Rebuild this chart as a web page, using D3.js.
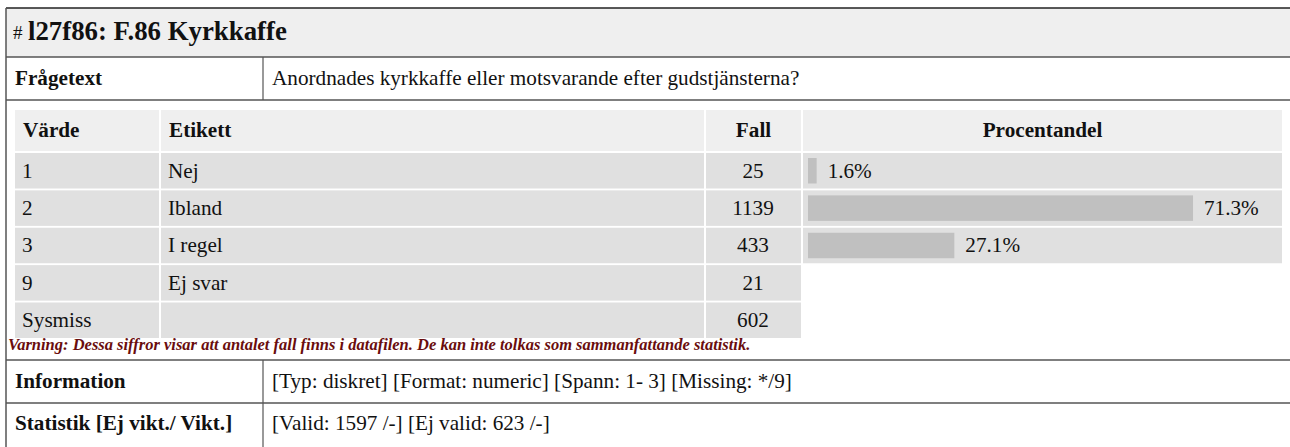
<!DOCTYPE html>
<html>
<head>
<meta charset="utf-8">
<script src="https://cdn.jsdelivr.net/npm/d3@7"></script>
<style>
  body { margin: 0; background: #fff; }
  svg text { font-family: "Liberation Serif", "DejaVu Serif", serif; fill: #111; }
</style>
</head>
<body>
<svg width="1290" height="447"></svg>
<script>
// data
var values = ["1", "2", "3", "9", "Sysmiss"];
var labels = ["Nej", "Ibland", "I regel", "Ej svar", ""];
var counts = [25, 1139, 433, 21, 602];
var percents = [1.6, 71.3, 27.1, null, null];
var headers = ["Värde", "Etikett", "Fall", "Procentandel"];

var title = "l27f86: F.86 Kyrkkaffe";
var question = "Anordnades kyrkkaffe eller motsvarande efter gudstjänsterna?";
var warning = "Varning: Dessa siffror visar att antalet fall finns i datafilen. De kan inte tolkas som sammanfattande statistik.";
var infoRows = [
  ["Information", "[Typ: diskret] [Format: numeric] [Spann: 1- 3] [Missing: */9]"],
  ["Statistik [Ej vikt./ Vikt.]", "[Valid: 1597 /-] [Ej valid: 623 /-]"]
];

var svg = d3.select("svg");
var border = "#555";
var fs = 21.2;

// outer frame: title row, question row
svg.append("rect").attr("x", 6).attr("y", 8).attr("width", 1290).attr("height", 49).attr("fill", "#efefef");
svg.append("line").attr("x1", 6).attr("x2", 1290).attr("y1", 8).attr("y2", 8).attr("stroke", "#222").attr("stroke-width", 1.5);
svg.append("line").attr("x1", 6).attr("x2", 6).attr("y1", 8).attr("y2", 447).attr("stroke", border).attr("stroke-width", 1.5);

svg.append("text").attr("x", 13).attr("y", 39).attr("font-size", 19).text("#");
svg.append("text").attr("x", 28).attr("y", 40).attr("font-size", 26.8).attr("font-weight", "bold").text(title);

var hlines = [57, 100, 360, 403];
svg.selectAll("line.h").data(hlines).enter().append("line")
    .attr("class", "h")
    .attr("x1", 6).attr("x2", 1290)
    .attr("y1", function(d) { return d; }).attr("y2", function(d) { return d; })
    .attr("stroke", border).attr("stroke-width", 1.5);

// vertical dividers for label / value rows
var rowSpans = [[57, 100], [360, 403], [403, 447]];
svg.selectAll("line.v").data(rowSpans).enter().append("line")
    .attr("class", "v")
    .attr("x1", 263).attr("x2", 263)
    .attr("y1", function(d) { return d[0]; }).attr("y2", function(d) { return d[1]; })
    .attr("stroke", border).attr("stroke-width", 1.2);

svg.append("text").attr("x", 15).attr("y", 85).attr("font-size", fs).attr("font-weight", "bold").text("Frågetext");
svg.append("text").attr("x", 272).attr("y", 85).attr("font-size", fs).text(question);

// inner frequency table
var cols = [
  {x0: 15, x1: 159, align: "start", pad: 8},
  {x0: 161, x1: 704, align: "start", pad: 8},
  {x0: 706, x1: 801, align: "middle", pad: 0},
  {x0: 803, x1: 1282, align: "middle", pad: 0}
];

var y = d3.scaleBand()
    .domain(d3.range(values.length))
    .range([153, 338])
    .paddingInner(0.05);

var x = d3.scaleLinear().domain([0, 100]).range([0, 540]);

// header
svg.selectAll("rect.hd").data(cols).enter().append("rect")
    .attr("class", "hd")
    .attr("x", function(d) { return d.x0; })
    .attr("y", 110)
    .attr("width", function(d) { return d.x1 - d.x0; })
    .attr("height", 41)
    .attr("fill", "#efefef");

svg.selectAll("text.hd").data(cols).enter().append("text")
    .attr("class", "hd")
    .attr("x", function(d) { return d.align === "middle" ? (d.x0 + d.x1) / 2 : d.x0 + d.pad; })
    .attr("y", 137)
    .attr("text-anchor", function(d) { return d.align; })
    .attr("font-size", fs)
    .attr("font-weight", "bold")
    .text(function(d, i) { return headers[i]; });

// body rows
var rows = svg.selectAll("g.row")
    .data(d3.range(values.length))
    .enter().append("g")
    .attr("class", "row")
    .attr("transform", function(i) { return "translate(0," + y(i) + ")"; });

rows.each(function(i) {
  var g = d3.select(this);
  var n = percents[i] == null ? 3 : 4;
  g.selectAll("rect.cell").data(cols.slice(0, n)).enter().append("rect")
      .attr("class", "cell")
      .attr("x", function(d) { return d.x0; })
      .attr("width", function(d) { return d.x1 - d.x0; })
      .attr("height", y.bandwidth())
      .attr("fill", "#e0e0e0");
});

var ty = y.bandwidth() / 2 + 7;
rows.append("text").attr("x", 22).attr("y", ty).attr("font-size", fs)
    .text(function(i) { return values[i]; });
rows.append("text").attr("x", 168).attr("y", ty).attr("font-size", fs)
    .text(function(i) { return labels[i]; });
rows.append("text").attr("x", 753).attr("y", ty).attr("font-size", fs).attr("text-anchor", "middle")
    .text(function(i) { return counts[i]; });

var bars = rows.filter(function(i) { return percents[i] != null; });
bars.append("rect")
    .attr("x", 808)
    .attr("y", 5)
    .attr("width", function(i) { return x(percents[i]); })
    .attr("height", y.bandwidth() - 10)
    .attr("fill", "#c0c0c0");
bars.append("text")
    .attr("x", function(i) { return 808 + x(percents[i]) + 11; })
    .attr("y", ty)
    .attr("font-size", fs)
    .text(function(i) { return percents[i].toFixed(1) + "%"; });

svg.append("text").attr("x", 8).attr("y", 350)
    .attr("font-size", 16.5).attr("font-weight", "bold").attr("font-style", "italic")
    .style("fill", "#6a0d0d")
    .text(warning);

// info rows
svg.selectAll("text.il").data(infoRows).enter().append("text")
    .attr("class", "il")
    .attr("x", 15)
    .attr("y", function(d, i) { return 388 + i * 42; })
    .attr("font-size", fs).attr("font-weight", "bold")
    .text(function(d) { return d[0]; });
svg.selectAll("text.iv").data(infoRows).enter().append("text")
    .attr("class", "iv")
    .attr("x", 272)
    .attr("y", function(d, i) { return 388 + i * 42; })
    .attr("font-size", fs)
    .text(function(d) { return d[1]; });
</script>
</body>
</html>
